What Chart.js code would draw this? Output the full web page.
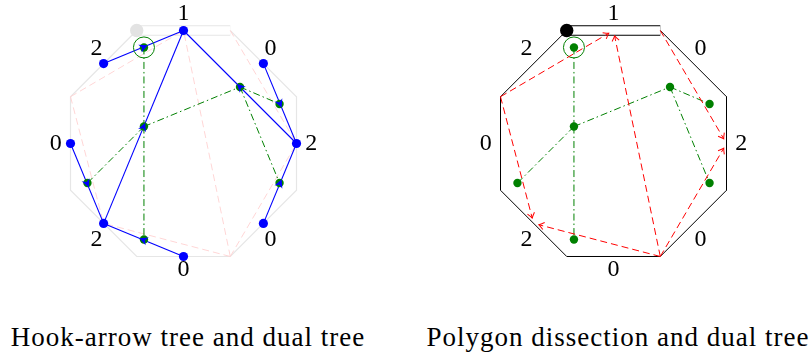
<!DOCTYPE html>
<html>
<head>
<meta charset="utf-8">
<script src="https://cdn.jsdelivr.net/npm/chart.js@4.4.0/dist/chart.umd.min.js"></script>
<style>
  html, body { margin: 0; padding: 0; background: #fff; }
  body { width: 809px; height: 356px; position: relative; overflow: hidden; }
  canvas { position: absolute; top: 0; }
  #left { left: 0; }
  #right { left: 430px; }
  .cap {
    position: absolute; top: 322px; width: 400px; text-align: center;
    font-family: "Liberation Serif", serif; font-size: 27px; line-height: 30px;
    letter-spacing: 1px; color: #000; white-space: nowrap;
  }
</style>
</head>
<body>
<canvas id="left" width="366" height="286"></canvas>
<canvas id="right" width="366" height="286"></canvas>
<div class="cap" style="left:-12px">Hook-arrow tree and dual tree</div>
<div class="cap" style="left:418px">Polygon dissection and dual tree</div>
<script>
(function () {
  // === Data (unit = octagon apothem) ===
  // corners, clockwise from the top-left one
  const cornerX = [-0.414, 0.414, 1, 1, 0.414, -0.414, -1, -1];
  const cornerY = [1, 1, 0.414, -0.414, -1, -1, -0.414, 0.414];
  // side midpoints, clockwise from the top side (the root side)
  const midX = [0, 0.707, 1, 0.707, 0, -0.707, -1, -0.707];
  const midY = [1, 0.707, 0, -0.707, -1, -0.707, 0, 0.707];
  const sideLabels = ["1", "0", "2", "0", "0", "2", "0", "2"];
  const labelX = [0, 0.77, 1.13, 0.77, 0, -0.77, -1.13, -0.77];
  const labelY = [1.15, 0.84, 0, -0.85, -1.12, -0.85, 0, 0.84];

  // hook-arrow tree: side hookFrom[k] points to side hookTo[k]
  const hookFrom = [7, 5, 2, 1, 3, 6, 4];
  const hookTo   = [0, 0, 0, 2, 2, 5, 5];

  // dissection: corner cutFrom[k] to the middle of side cutTo[k]
  const cutFrom = [7, 4, 1, 4, 7, 4];
  const cutTo   = [0, 0, 2, 2, 5, 5];

  // dual tree nodes and edges (node 0 is the root)
  const dualX = [-0.35, -0.35, 0.5, 0.85, 0.85, -0.85, -0.35];
  const dualY = [0.85, 0.15, 0.5, 0.35, -0.35, -0.35, -0.85];
  const dualA = [0, 1, 1, 1, 2, 2];
  const dualB = [1, 2, 5, 6, 3, 4];

  const GREEN = "#008000", BLUE = "#0000ff", RED = "#ff0000";

  const pt = (i, xs, ys) => ({ x: xs[i], y: ys[i] });
  const line = (a, b, style) => Object.assign({ data: [a, b], showLine: true, pointRadius: 0, borderWidth: 1 }, style);

  function buildDatasets(left) {
    const ds = [];
    const edge = left ? "#e6e6e6" : "#000000";

    const loop = cornerX.map((x, i) => ({ x, y: cornerY[i] }));
    loop.push(loop[0]);
    ds.push({ data: loop, showLine: true, pointRadius: 0, borderColor: edge, borderWidth: left ? 1.2 : 1, borderJoinStyle: "miter" });

    // root side drawn as a double line
    const a = pt(0, cornerX, cornerY), b = pt(1, cornerX, cornerY);
    ds.push(line(a, b, { borderColor: edge, borderWidth: 10.5, borderCapStyle: "butt" }));
    ds.push(line(a, b, { borderColor: "#ffffff", borderWidth: 8.5, borderCapStyle: "butt" }));

    if (left) {
      cutFrom.forEach((c, k) => ds.push(line(pt(c, cornerX, cornerY), pt(cutTo[k], midX, midY),
        { borderColor: "#ffd6d6", borderDash: [7, 4] })));
    }

    dualA.forEach((n, k) => ds.push(line(pt(n, dualX, dualY), pt(dualB[k], dualX, dualY),
      { borderColor: GREEN, borderDash: [7, 3, 1.5, 3] })));

    if (left) {
      hookFrom.forEach((s, k) => ds.push(line(pt(s, midX, midY), pt(hookTo[k], midX, midY),
        { borderColor: BLUE, borderWidth: 1.1 })));
    }

    ds.push({ data: dualX.map((x, i) => ({ x, y: dualY[i] })), pointRadius: 4.2, pointBackgroundColor: GREEN, pointBorderWidth: 0 });
    ds.push({ data: [pt(0, dualX, dualY)], pointRadius: 10.5, pointBackgroundColor: "rgba(0,0,0,0)", pointBorderColor: GREEN, pointBorderWidth: 1 });
    if (left) {
      ds.push({ data: midX.map((x, i) => ({ x, y: midY[i] })), pointRadius: 4.6, pointBackgroundColor: BLUE, pointBorderWidth: 0 });
    }
    ds.push({ data: [pt(0, cornerX, cornerY)], pointRadius: 6.7, pointBackgroundColor: left ? "#e3e3e3" : "#000000", pointBorderWidth: 0 });

    ds.forEach((d, i) => { d.order = -i; d.clip = false; d.pointHoverRadius = d.pointRadius; });
    return ds;
  }

  function stealth(ctx, x, y, ang) {
    ctx.save();
    ctx.translate(x, y); ctx.rotate(ang);
    ctx.fillStyle = BLUE;
    ctx.beginPath();
    ctx.moveTo(4.5, 0); ctx.lineTo(-4, -4.2); ctx.lineTo(-1.5, 0); ctx.lineTo(-4, 4.2);
    ctx.closePath(); ctx.fill();
    ctx.restore();
  }

  function chevron(ctx, x, y, ang) {
    ctx.save();
    ctx.translate(x, y); ctx.rotate(ang);
    ctx.setLineDash([]);
    ctx.beginPath();
    ctx.moveTo(-5, -3.6); ctx.quadraticCurveTo(-1.5, -0.8, 0, 0); ctx.quadraticCurveTo(-1.5, 0.8, -5, 3.6);
    ctx.stroke();
    ctx.restore();
  }

  const marks = {
    id: "marks",
    afterDatasetsDraw(chart, args, opts) {
      const ctx = chart.ctx, sx = chart.scales.x, sy = chart.scales.y;
      const px = v => sx.getPixelForValue(v), py = v => sy.getPixelForValue(v);
      ctx.save();
      if (opts.left) {
        hookFrom.forEach((s, k) => {
          const x0 = px(midX[s]), y0 = py(midY[s]);
          const x1 = px(midX[hookTo[k]]), y1 = py(midY[hookTo[k]]);
          stealth(ctx, (x0 + x1) / 2, (y0 + y1) / 2, Math.atan2(y1 - y0, x1 - x0));
        });
      } else {
        ctx.strokeStyle = RED; ctx.lineWidth = 1;
        cutFrom.forEach((c, k) => {
          const x0 = px(cornerX[c]), y0 = py(cornerY[c]);
          let x1 = px(midX[cutTo[k]]), y1 = py(midY[cutTo[k]]);
          const ang = Math.atan2(y1 - y0, x1 - x0);
          x1 -= 5.5 * Math.cos(ang); y1 -= 5.5 * Math.sin(ang);
          ctx.setLineDash([7, 4]);
          ctx.beginPath(); ctx.moveTo(x0, y0); ctx.lineTo(x1, y1); ctx.stroke();
          chevron(ctx, x1, y1, ang);
        });
      }
      ctx.setLineDash([]);
      ctx.fillStyle = "#000";
      ctx.font = "24px 'Liberation Serif'";
      ctx.textAlign = "center"; ctx.textBaseline = "middle";
      sideLabels.forEach((t, i) => ctx.fillText(t, px(labelX[i]), py(labelY[i])));
      ctx.restore();
    }
  };

  function makeChart(id, left) {
    new Chart(document.getElementById(id), {
      type: "scatter",
      data: { datasets: buildDatasets(left) },
      options: {
        responsive: false, animation: false, events: [],
        layout: { padding: 0, autoPadding: false },
        scales: {
          // centre sits on a pixel centre so the 1px sides stay crisp
          x: { type: "linear", min: -1.6239, max: 1.6150, display: false },
          y: { type: "linear", min: -1.2611, max: 1.2699, display: false }
        },
        plugins: { legend: { display: false }, tooltip: { enabled: false }, marks: { left } }
      },
      plugins: [marks]
    });
  }

  makeChart("left", true);
  makeChart("right", false);
})();
</script>
</body>
</html>
